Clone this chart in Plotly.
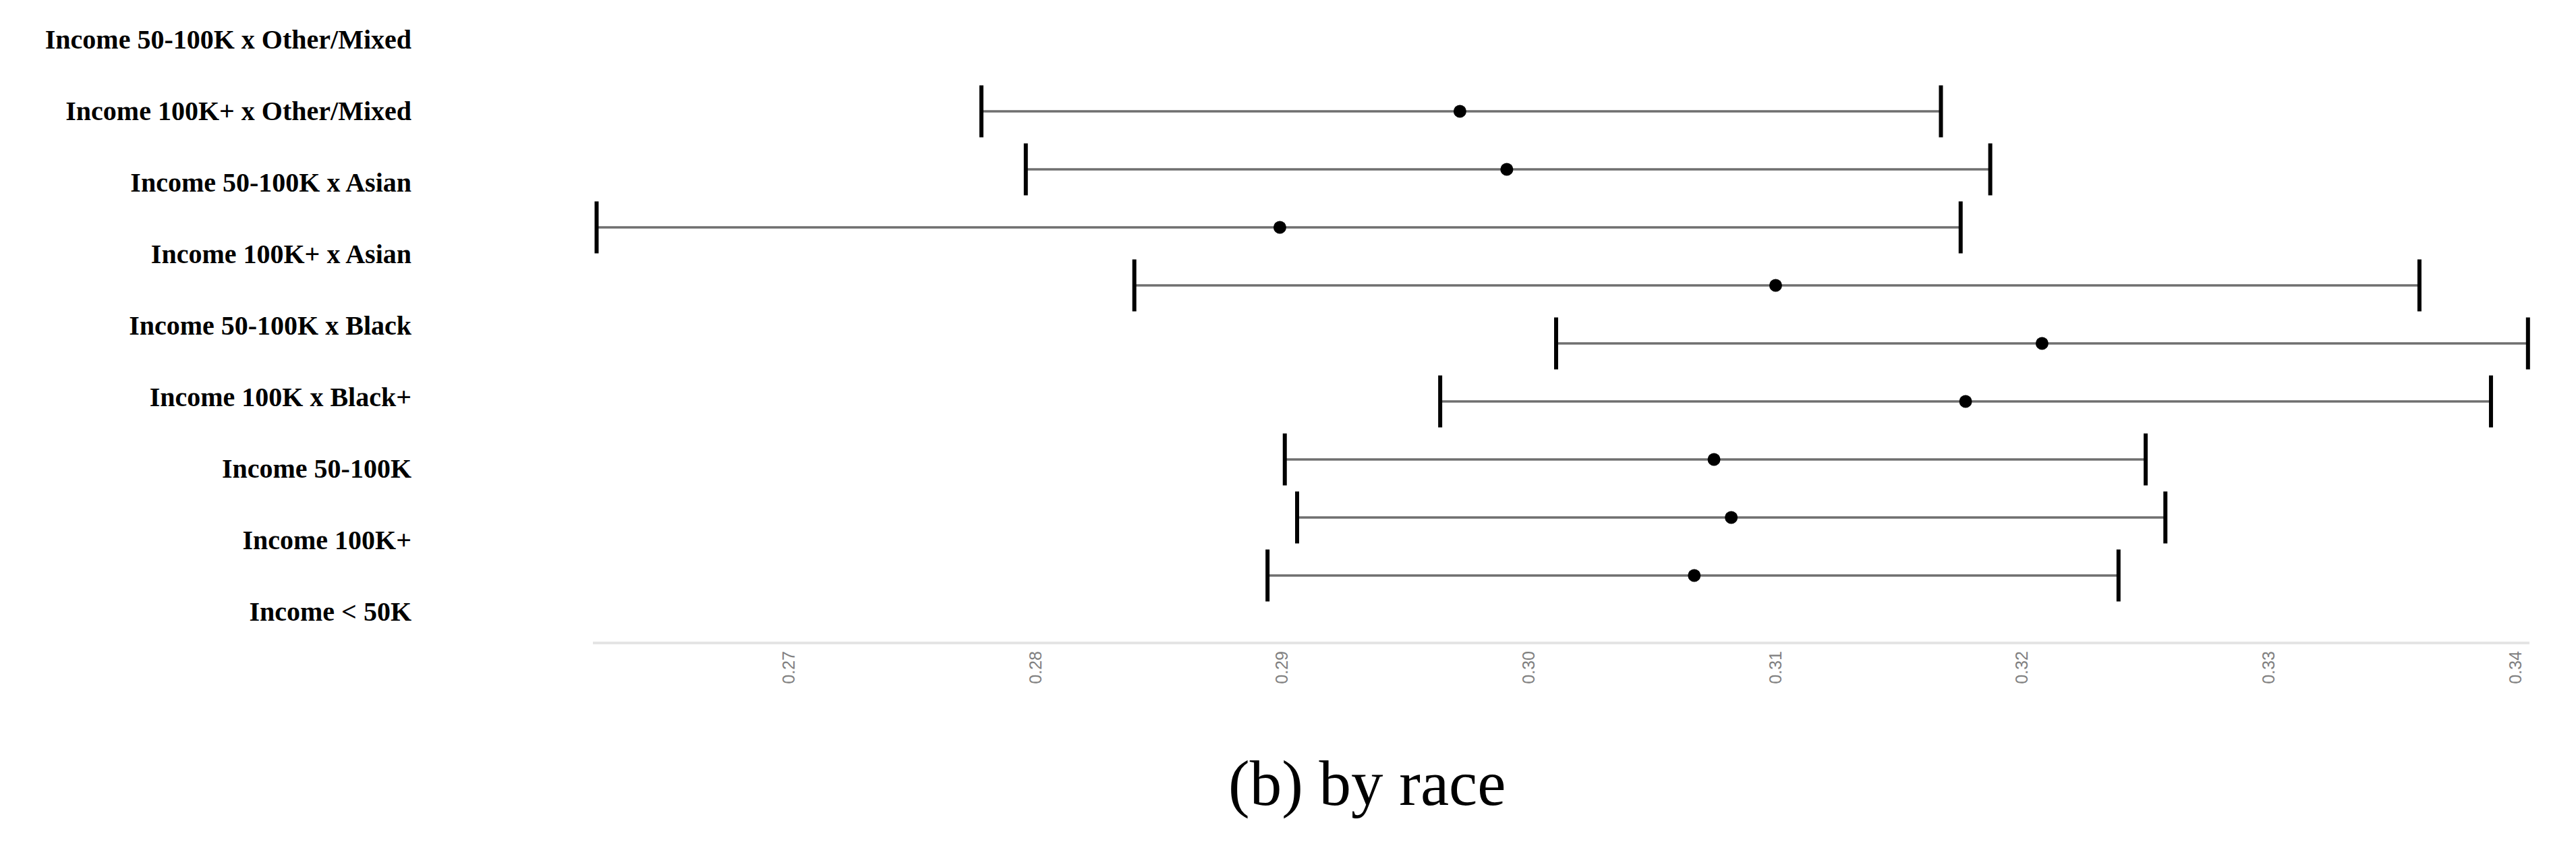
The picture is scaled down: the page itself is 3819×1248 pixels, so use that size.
import plotly.graph_objects as go

# ---- data ----
labels = [
    "Income 50-100K x Other/Mixed",
    "Income 100K+ x Other/Mixed",
    "Income 50-100K x Asian",
    "Income 100K+ x Asian",
    "Income 50-100K x Black",
    "Income 100K x Black+",
    "Income 50-100K",
    "Income 100K+",
    "Income < 50K",
]
estimate = [0.2972, 0.2991, 0.2899, 0.3100, 0.3208, 0.3177, 0.3075, 0.3082, 0.3067]
lower = [0.2778, 0.2796, 0.2622, 0.2840, 0.3011, 0.2964, 0.2901, 0.2906, 0.2894]
upper = [0.3167, 0.3187, 0.3175, 0.3361, 0.3405, 0.3390, 0.3250, 0.3258, 0.3239]
x_ticks = [0.27, 0.28, 0.29, 0.30, 0.31, 0.32, 0.33, 0.34]
x_ticktext = ["0.27", "0.28", "0.29", "0.30", "0.31", "0.32", "0.33", "0.34"]
caption = "(b) by race"

W, H = 3819, 1248
ML, MR, MT, MB = 602, 77, 0, 305

fig = go.Figure()

# horizontal interval lines
lx, ly = [], []
for lab, lo, hi in zip(labels, lower, upper):
    lx += [lo, hi, None]
    ly += [lab, lab, None]
fig.add_trace(go.Scatter(
    x=lx, y=ly, mode="lines", yaxis="y2",
    line=dict(color="#6f6f6f", width=3.5),
    hoverinfo="skip", showlegend=False, cliponaxis=False,
))

# end caps
fig.add_trace(go.Scatter(
    x=lower + upper, y=labels + labels, mode="markers", yaxis="y2",
    marker=dict(symbol="line-ns", size=55, line=dict(color="#000000", width=6)),
    hoverinfo="skip", showlegend=False, cliponaxis=False,
))

# point estimates
fig.add_trace(go.Scatter(
    x=estimate, y=labels, mode="markers", yaxis="y2",
    marker=dict(symbol="circle", size=19, color="#000000"),
    showlegend=False, cliponaxis=False,
))

# invisible trace that carries the label axis
fig.add_trace(go.Scatter(
    x=estimate, y=labels, mode="markers", yaxis="y",
    marker=dict(opacity=0), hoverinfo="skip", showlegend=False,
))

x0 = (871 - ML) / (W - ML - MR)

fig.update_layout(
    width=W, height=H,
    margin=dict(l=ML, r=MR, t=MT, b=MB),
    paper_bgcolor="white", plot_bgcolor="white",
    xaxis=dict(
        domain=[x0, 1], range=[0.26205, 0.34056], anchor="y",
        tickvals=x_ticks, ticktext=x_ticktext, tickangle=-90,
        tickfont=dict(family="Liberation Sans, Arial", size=25, color="#808080"),
        showline=True, linecolor="#e4e4e4", linewidth=4,
        showgrid=False, zeroline=False, ticks="",
    ),
    yaxis=dict(
        type="category", categoryorder="array", categoryarray=labels,
        range=[8.4245, -0.4717], anchor="free", position=0, side="left",
        showgrid=False, zeroline=False, showline=False, ticks="",
        tickfont=dict(family="Liberation Serif", size=40, color="#000000", weight="bold"),
    ),
    yaxis2=dict(
        type="category", categoryorder="array", categoryarray=labels,
        range=[9.14, -1.826], overlaying="y", anchor="x",
        showticklabels=False, showgrid=False, zeroline=False, showline=False, ticks="",
    ),
    annotations=[dict(
        text=caption, xref="paper", yref="paper",
        x=(2018 - ML) / (W - ML - MR), y=-(1153 - 943) / 943,
        xanchor="center", yanchor="middle", showarrow=False,
        font=dict(family="Liberation Serif", size=95, color="#000000"),
    )],
)

fig.write_html("out.html")
